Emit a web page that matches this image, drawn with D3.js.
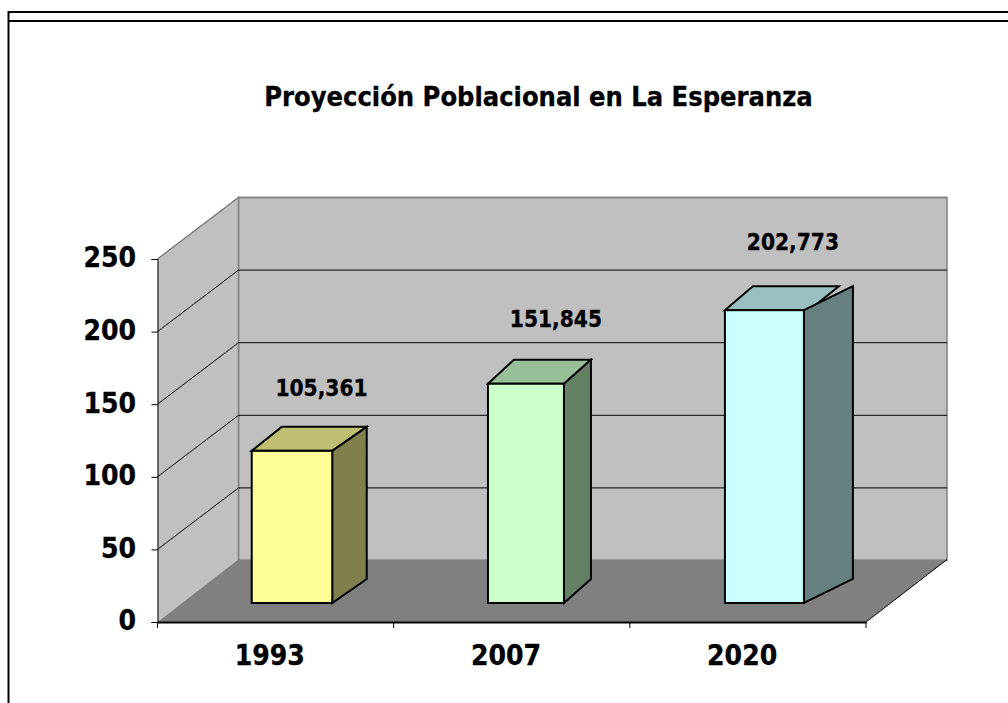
<!DOCTYPE html>
<html>
<head>
<meta charset="utf-8">
<script src="https://cdn.jsdelivr.net/npm/d3@7"></script>
<style>
  html, body { margin: 0; padding: 0; background: #fff; }
  text { font-family: "DejaVu Sans Condensed", "DejaVu Sans", sans-serif; font-weight: bold; fill: #000; stroke: #000; stroke-width: 0.3px; }
</style>
</head>
<body>
<div id="chart"></div>
<script>
var titleText = "Proyección Poblacional en La Esperanza";
var categories = ["1993", "2007", "2020"];
var values = [105.361, 151.845, 202.773];
var valueLabels = ["105,361", "151,845", "202,773"];
var yTicks = [0, 50, 100, 150, 200, 250];
var barColors = ["#ffff99", "#ccffcc", "#ccffff"];
var topColors = ["#bfbf73", "#99bf99", "#99bfbf"];
var sideColors = ["#80804d", "#668066", "#668080"];

var width = 1008;
var height = 703;

// front edge of the box, and how far the back wall is pushed
var plot = {left: 157.5, right: 866, top: 259, bottom: 622};
var depth = {x: 81, y: -61.5};

// the bars in the picture are uneven, so each gets its own shape
var barWidths = [80.5, 76, 79];
var barShift = [16.4, 14.2, 16.5];
var topLeftDepth = [30, 26, 28];
var topRightDepth = [34.5, 27, 35];
var topOverhang = [0, 0, 5];
var sideDepth = [34.5, 27, 49];
var labelShift = [29.5, 30, 28.5];
var labelRise = [55, 57, 60];
var barRise = 24;

var y = d3.scaleLinear().domain([0, 250]).range([plot.bottom, plot.top]);
var barY = d3.scaleLinear().domain([0, 250]).range([603, 242]);
var x = d3.scaleBand().domain(categories).range([plot.left, plot.right]);

var svg = d3.select("#chart")
  .append("svg")
  .attr("width", width)
  .attr("height", height)
  .style("display", "block");

// frame lines
var frame = svg.append("g").attr("fill", "none").attr("stroke", "#000");
frame.append("path").attr("stroke-width", 2).attr("d", "M8.5,703V12H1008");
frame.append("path").attr("stroke-width", 2).attr("d", "M8.5,21H1008");

// walls
svg.append("path")
  .attr("fill", "#c0c0c0")
  .attr("stroke", "#808080")
  .attr("stroke-width", 1.5)
  .attr("d", d3.line()([[plot.left + depth.x, y(250) + depth.y], [plot.right + depth.x, y(250) + depth.y], [plot.right + depth.x, y(0) + depth.y], [plot.left + depth.x, y(0) + depth.y]]) + "Z");
svg.append("path")
  .attr("fill", "#c0c0c0")
  .attr("stroke", "none")
  .attr("d", d3.line()([[plot.left, y(250)], [plot.left + depth.x, y(250) + depth.y], [plot.left + depth.x, y(0) + depth.y], [plot.left, y(0)]]) + "Z");
svg.append("path")
  .attr("fill", "none")
  .attr("stroke", "#808080")
  .attr("stroke-width", 1.5)
  .attr("d", d3.line()([[plot.left, y(250)], [plot.left + depth.x, y(250) + depth.y], [plot.left + depth.x, y(0) + depth.y]]));

// floor
svg.append("path")
  .attr("fill", "#808080")
  .attr("d", d3.line()([[plot.left, y(0)], [plot.left + depth.x, y(0) + depth.y - 1], [plot.right + depth.x, y(0) + depth.y - 1], [plot.right, y(0)]]) + "Z");
svg.append("line")
  .attr("x1", plot.right).attr("y1", y(0))
  .attr("x2", plot.right + depth.x).attr("y2", y(0) + depth.y - 1)
  .attr("stroke", "#000");

// gridlines
var grid = svg.append("g").attr("fill", "none").attr("stroke", "#000").attr("stroke-width", 1);
yTicks.filter(function(d) { return d > 0 && d < 250; }).forEach(function(d) {
  grid.append("path")
    .attr("d", d3.line()([[plot.left, y(d)], [plot.left + depth.x, y(d) + depth.y], [plot.right + depth.x, y(d) + depth.y]]));
});
grid.append("line")
  .attr("x1", plot.left + depth.x).attr("y1", y(250) + depth.y)
  .attr("x2", plot.right + depth.x).attr("y2", y(250) + depth.y)
  .attr("stroke", "#808080")
  .attr("stroke-width", 1.5);

// axes
var yAxis = svg.append("g")
  .attr("transform", "translate(" + plot.left + ",0)")
  .call(d3.axisLeft(y).tickValues(yTicks).tickSize(6).tickPadding(15.5).tickFormat(d3.format("d")));
yAxis.selectAll("text").style("font-size", "28px").attr("dy", "0.28em");

var xAxis = svg.append("g")
  .attr("transform", "translate(0," + plot.bottom + ")")
  .call(d3.axisBottom(x).tickSize(0).tickPadding(19));
xAxis.selectAll("text")
  .style("font-size", "28px")
  .attr("x", -5.8)
  .attr("y", 43)
  .attr("dy", 0);
xAxis.selectAll("path").attr("stroke-width", 2);
svg.append("g").selectAll("line")
  .data(d3.range(categories.length + 1))
  .join("line")
  .attr("x1", function(i) { return plot.left + i * x.step(); })
  .attr("x2", function(i) { return plot.left + i * x.step(); })
  .attr("y1", plot.bottom)
  .attr("y2", plot.bottom + 6)
  .attr("stroke", "#000");

// bars
var bars = svg.append("g")
  .attr("stroke", "#000")
  .attr("stroke-width", 2)
  .attr("stroke-linejoin", "miter");

categories.forEach(function(c, i) {
  var cx = x(c) + x.bandwidth() / 2 + barShift[i];
  var l = cx - barWidths[i] / 2;
  var r = cx + barWidths[i] / 2;
  var b = barY(0);
  var t = barY(values[i]);

  bars.append("path")
    .attr("fill", topColors[i])
    .attr("d", d3.line()([[l, t], [l + topLeftDepth[i], t - barRise], [r + topRightDepth[i], t - barRise], [r + topOverhang[i], t]]) + "Z");
  bars.append("path")
    .attr("fill", sideColors[i])
    .attr("d", d3.line()([[r, t], [r + sideDepth[i], t - barRise], [r + sideDepth[i], b - barRise], [r, b]]) + "Z");
  bars.append("rect")
    .attr("fill", barColors[i])
    .attr("x", l)
    .attr("y", t)
    .attr("width", barWidths[i])
    .attr("height", b - t);

  svg.append("text")
    .attr("x", cx + labelShift[i])
    .attr("y", t - labelRise[i])
    .attr("text-anchor", "middle")
    .style("font-size", "22.5px")
    .text(valueLabels[i]);
});

svg.append("text")
  .attr("x", 538.5)
  .attr("y", 106)
  .attr("text-anchor", "middle")
  .style("font-size", "27px")
  .text(titleText);
</script>
</body>
</html>
